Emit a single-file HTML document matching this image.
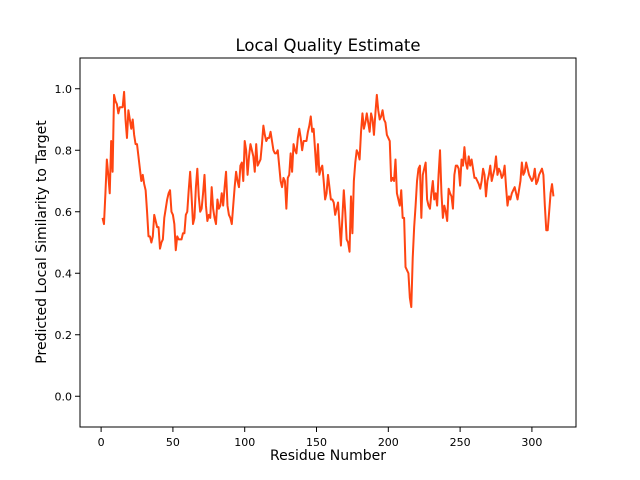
<!DOCTYPE html>
<html><head><meta charset="utf-8">
<style>body{margin:0;background:#fff}svg{display:block;font-family:"DejaVu Sans","Liberation Sans",sans-serif}</style>
</head><body>
<svg id="chart" width="640" height="480" viewBox="0 0 640 480" xmlns="http://www.w3.org/2000/svg">
<rect width="640" height="480" fill="#fff"/>
<text x="328" y="51" text-anchor="middle" font-size="16.5" fill="#000">Local Quality Estimate</text>
<text x="328" y="460" text-anchor="middle" font-size="14" fill="#000">Residue Number</text>
<text transform="translate(46,242) rotate(-90)" text-anchor="middle" font-size="14" fill="#000">Predicted Local Similarity to Target</text>
<g id="xt"></g>
<g id="yt"></g>
<g id="plot"></g>
<rect x="80" y="58" width="496" height="369" fill="none" stroke="#000" stroke-width="1"/>
</svg>
<script>
const scores = [0.58,0.56,0.66,0.77,0.72,0.66,0.83,0.73,0.98,0.96,
0.95,0.92,0.94,0.94,0.94,0.99,0.90,0.84,0.93,0.90,
0.87,0.90,0.85,0.82,0.82,0.78,0.74,0.70,0.72,0.69,
0.67,0.60,0.52,0.52,0.50,0.52,0.59,0.57,0.55,0.55,
0.48,0.50,0.51,0.58,0.61,0.64,0.66,0.67,0.60,0.59,
0.56,0.475,0.52,0.51,0.51,0.51,0.53,0.53,0.59,0.60,
0.67,0.73,0.65,0.56,0.58,0.68,0.74,0.65,0.60,0.61,
0.66,0.72,0.62,0.57,0.59,0.58,0.68,0.61,0.58,0.56,
0.64,0.61,0.62,0.66,0.62,0.68,0.73,0.62,0.59,0.58,
0.56,0.62,0.68,0.73,0.70,0.68,0.75,0.76,0.70,0.83,
0.80,0.72,0.78,0.82,0.80,0.78,0.73,0.82,0.75,0.76,
0.77,0.82,0.88,0.85,0.83,0.84,0.84,0.86,0.83,0.80,
0.79,0.79,0.80,0.75,0.70,0.68,0.71,0.70,0.61,0.71,
0.72,0.79,0.73,0.82,0.80,0.79,0.84,0.87,0.84,0.80,
0.83,0.83,0.83,0.86,0.88,0.91,0.86,0.87,0.80,0.73,
0.82,0.72,0.74,0.75,0.70,0.64,0.66,0.72,0.68,0.64,
0.64,0.63,0.59,0.61,0.63,0.56,0.49,0.58,0.67,0.60,
0.51,0.50,0.47,0.65,0.53,0.70,0.76,0.80,0.79,0.77,
0.86,0.92,0.87,0.89,0.92,0.89,0.86,0.92,0.90,0.85,
0.92,0.98,0.93,0.90,0.91,0.93,0.90,0.89,0.85,0.84,
0.83,0.70,0.71,0.70,0.77,0.66,0.64,0.62,0.67,0.58,
0.58,0.42,0.41,0.40,0.32,0.29,0.45,0.55,0.62,0.70,
0.74,0.75,0.58,0.72,0.74,0.76,0.64,0.62,0.61,0.66,
0.70,0.64,0.66,0.62,0.72,0.80,0.66,0.58,0.62,0.60,
0.57,0.675,0.66,0.65,0.61,0.72,0.75,0.75,0.74,0.685,
0.77,0.75,0.81,0.76,0.74,0.78,0.75,0.77,0.74,0.71,
0.71,0.70,0.69,0.675,0.70,0.74,0.72,0.65,0.70,0.72,
0.75,0.70,0.72,0.74,0.78,0.72,0.74,0.73,0.71,0.72,
0.75,0.68,0.62,0.65,0.64,0.66,0.67,0.68,0.66,0.64,
0.67,0.70,0.76,0.72,0.73,0.76,0.74,0.72,0.71,0.70,
0.71,0.74,0.69,0.70,0.72,0.73,0.74,0.72,0.62,0.54,
0.54,0.60,0.66,0.69,0.65];
const xTicks = [0,50,100,150,200,250,300];
const yTicks = [0.0,0.2,0.4,0.6,0.8,1.0];
const yTickLabels = ["0.0","0.2","0.4","0.6","0.8","1.0"];

const NS = "http://www.w3.org/2000/svg";
const L=80,T=58,W=496,H=369;
const n = scores.length;
const xMin = 1-(n-1)*0.05, xMax = n+(n-1)*0.05;
const yMin = -0.1, yMax = 1.1;
const xs = v => L + (v-xMin)/(xMax-xMin)*W;
const ys = v => T + (yMax-v)/(yMax-yMin)*H;

const xt = document.getElementById('xt');
xTicks.forEach(t => {
  const x = xs(t);
  const ln = document.createElementNS(NS,'line');
  ln.setAttribute('x1',x);ln.setAttribute('x2',x);ln.setAttribute('y1',T+H);ln.setAttribute('y2',T+H+5);
  ln.setAttribute('stroke','#000');
  
  
  xt.appendChild(ln);
  const tx = document.createElementNS(NS,'text');
  tx.setAttribute('x',x);tx.setAttribute('y',T+H+19);tx.setAttribute('text-anchor','middle');tx.setAttribute('font-size','11');
  tx.textContent = t;
  
  
  xt.appendChild(tx);
});
const yt = document.getElementById('yt');
yTicks.forEach((t,i) => {
  const y = ys(t);
  const ln = document.createElementNS(NS,'line');
  ln.setAttribute('x1',L-5);ln.setAttribute('x2',L);ln.setAttribute('y1',y);ln.setAttribute('y2',y);
  ln.setAttribute('stroke','#000');
  
  
  yt.appendChild(ln);
  const tx = document.createElementNS(NS,'text');
  tx.setAttribute('x',L-8);tx.setAttribute('y',y+4);tx.setAttribute('text-anchor','end');tx.setAttribute('font-size','11');
  tx.textContent = yTickLabels[i];
  
  
  yt.appendChild(tx);
});
const pts = scores.map((v,i)=> xs(i+1).toFixed(2)+','+ys(v).toFixed(2)).join(' ');
const pl = document.createElementNS(NS,'polyline');
pl.setAttribute('points',pts);
pl.setAttribute('fill','none');pl.setAttribute('stroke','#ff4512');pl.setAttribute('stroke-width','2');pl.setAttribute('stroke-linejoin','round');


document.getElementById('plot').appendChild(pl);
</script>
</body></html>
